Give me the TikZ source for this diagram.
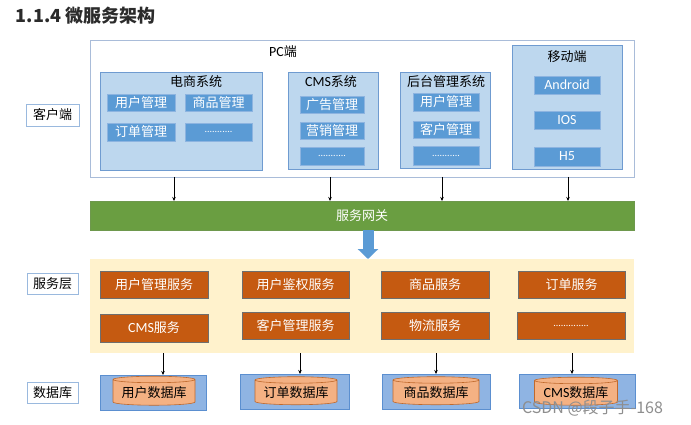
\documentclass[tikz,border=0pt]{standalone}
\usepackage{fontspec}
\setmainfont{Noto Sans CJK SC}
\newfontfamily\lat{Carlito}
\usetikzlibrary{arrows.meta,shapes.geometric,calc}
\definecolor{pcborder}{HTML}{A9BCD9}
\definecolor{sysfill}{HTML}{BDD7EE}
\definecolor{sysdraw}{HTML}{6F9BD0}
\definecolor{subfill}{HTML}{5B9BD5}
\definecolor{subdraw}{HTML}{8DB4E0}
\definecolor{gwfill}{HTML}{6A9E41}
\definecolor{svbg}{HTML}{FFF2CC}
\definecolor{orfill}{HTML}{C55A11}
\definecolor{ordraw}{HTML}{6E6E6E}
\definecolor{dbfill}{HTML}{8FB4E3}
\definecolor{dbdraw}{HTML}{5B8FD0}
\definecolor{cylfill}{HTML}{F4B183}
\definecolor{cyldraw}{HTML}{C0692C}
\definecolor{arrblue}{HTML}{5B9BD5}
\definecolor{titlec}{HTML}{2B2B2B}
\definecolor{wmc}{HTML}{8E8E8E}
\newcommand{\dotsA}{{\lat\fontsize{10}{12}\selectfont ...........}}
\newcommand{\dotsB}{{\lat\fontsize{10}{12}\selectfont ..............}}
\begin{document}
\begin{tikzpicture}[x=1pt,y=-1pt,
  every node/.style={inner sep=0pt, outer sep=0pt, font=\fontsize{13}{15}\selectfont},
  sz/.style 2 args={minimum width=#1pt, minimum height=#2pt},
  latf/.style={font=\lat\fontsize{14}{16}\selectfont},
  pcbox/.style={draw=pcborder, fill=white, line width=0.8pt},
  sysbox/.style={draw=sysdraw, fill=sysfill, line width=0.8pt},
  subbox/.style={draw=subdraw, fill=subfill, text=white, line width=0.6pt},
  lbl/.style={draw=sysdraw!70, fill=white, line width=0.6pt},
  gwbox/.style={fill=gwfill, draw=gwfill!80!gray, text=white, line width=0.6pt},
  svbox/.style={fill=orfill, draw=ordraw, text=white, line width=0.8pt},
  dbbox/.style={fill=dbfill, draw=dbdraw, line width=0.8pt},
  cyl/.style={cylinder, shape border rotate=90, aspect=0.1, fill=cylfill, draw=cyldraw, line width=0.6pt},
  arr/.style={-{Stealth[length=4pt,width=3.5pt]}, line width=0.6pt, black}
]
\useasboundingbox (0,0) rectangle (691,425);
\fill[white] (0,0) rectangle (691,425);

% title
\node[anchor=west, text=titlec, font=\bfseries\fontsize{18}{20}\selectfont] (title) at (16,16) {1.1.4 微服务架构};

% client side
\node[pcbox, sz={544}{137}] (pc) at (362,108.5) {};
\node (pct) at (283,52) {{\lat\fontsize{14}{16}\selectfont PC}端};
\node[lbl, sz={53}{22}] (client) at (52.5,115) {客户端};

\node[sysbox, sz={162}{98}] (ds) at (181,121) {};
\node (dst) at (196,82) {电商系统};
\node[subbox, sz={68}{17}] (ds1) at (141,102.5) {用户管理};
\node[subbox, sz={67}{17}] (ds2) at (218.5,102.5) {商品管理};
\node[subbox, sz={68}{18}] (ds3) at (141,132) {订单管理};
\node[subbox, sz={67}{18}] (ds4) at (218.5,132) {\dotsA};

\node[sysbox, sz={90}{97}] (cms) at (333,120.5) {};
\node (cmst) at (331,82) {{\lat\fontsize{14}{16}\selectfont CMS}系统};
\node[subbox, sz={64}{17}] (cms1) at (332,104.5) {广告管理};
\node[subbox, sz={64}{17}] (cms2) at (332,130.5) {营销管理};
\node[subbox, sz={64}{18}] (cms3) at (332,156) {\dotsA};

\node[sysbox, sz={90}{96}] (ht) at (445,120) {};
\node (htt) at (446,82) {后台管理系统};
\node[subbox, sz={66}{18}] (ht1) at (446,102) {用户管理};
\node[subbox, sz={66}{17}] (ht2) at (446,129.5) {客户管理};
\node[subbox, sz={66}{19}] (ht3) at (446,155.5) {\dotsA};

\node[sysbox, sz={110}{124}] (mb) at (567,107) {};
\node (mbt) at (567,57) {移动端};
\node[subbox, latf, sz={66}{18}] (mb1) at (567,85) {Android};
\node[subbox, latf, sz={66}{18}] (mb2) at (567,120) {IOS};
\node[subbox, latf, sz={66}{19}] (mb3) at (567,156.5) {H5};

% gateway
\node[gwbox, sz={544}{29}] (gw) at (362,215.5) {服务网关};
\draw[arr] ($(pc.south -| ds.south)+(-7,0)$) -- ($(gw.north -| ds.south)+(-7,0)$);
\draw[arr] ($(pc.south -| cms.south)+(-3,0)$) -- ($(gw.north -| cms.south)+(-3,0)$);
\draw[arr] ($(pc.south -| ht.south)+(-3,0)$) -- ($(gw.north -| ht.south)+(-3,0)$);
\draw[arr] ($(pc.south -| mb.south)+(1,0)$) -- ($(gw.north -| mb.south)+(1,0)$);

% service layer
\node[fill=svbg, sz={544}{94}] (sv) at (362,306) {};
\draw[arrblue, line width=11pt, -{Triangle[length=10pt,width=20pt]}] ($(gw.south)+(6,0)$) -- ($(sv.north)+(6,0)$);
\node[lbl, sz={51}{21}] (svl) at (52.5,283.5) {服务层};
\node[svbox, sz={108}{27}] (s1) at (154,284.5) {用户管理服务};
\node[svbox, sz={107}{27}] (s2) at (295.5,284.5) {用户鉴权服务};
\node[svbox, sz={108}{27}] (s3) at (435,284.5) {商品服务};
\node[svbox, sz={107}{27}] (s4) at (571.5,284.5) {订单服务};
\node[svbox, sz={108}{28}] (s5) at (154,328) {{\lat\fontsize{14}{16}\selectfont CMS}服务};
\node[svbox, sz={107}{27}] (s6) at (295.5,325.5) {客户管理服务};
\node[svbox, sz={108}{27}] (s7) at (435,325.5) {物流服务};
\node[svbox, sz={108}{27}] (s8) at (571,325.5) {\dotsB};

% database layer
\node[lbl, sz={51}{21}] (dbl) at (52.5,392.5) {数据库};
\node[dbbox, sz={106}{35}] (d1) at (153,392.5) {};
\node[dbbox, sz={109}{35}] (d2) at (294.5,391.5) {};
\node[dbbox, sz={108}{35}] (d3) at (436,391.5) {};
\node[dbbox, sz={116}{34}] (d4) at (577,391) {};
\node[cyl, sz={82}{29}] (c1) at (154,392.5) {用户数据库};
\node[cyl, sz={82}{28}] (c2) at (296,392.5) {订单数据库};
\node[cyl, sz={86}{28}] (c3) at (436,392.5) {商品数据库};
\node[cyl, sz={83}{28}] (c4) at (576,393) {{\lat\fontsize{14}{16}\selectfont CMS}数据库};
\draw[arr] ($(sv.south -| d1.north)+(10,0)$) -- ($(d1.north)+(10,0)$);
\draw[arr] ($(sv.south -| d2.north)+(5.5,0)$) -- ($(d2.north)+(5.5,0)$);
\draw[arr] (sv.south -| d3.north) -- (d3.north);
\draw[arr] ($(sv.south -| d4.north)+(-5,0)$) -- ($(d4.north)+(-5,0)$);

% watermark
\node[text=wmc, font=\fontsize{16}{18}\selectfont] (wm) at (592.5,408) {CSDN @段子手-168};
\end{tikzpicture}
\end{document}
